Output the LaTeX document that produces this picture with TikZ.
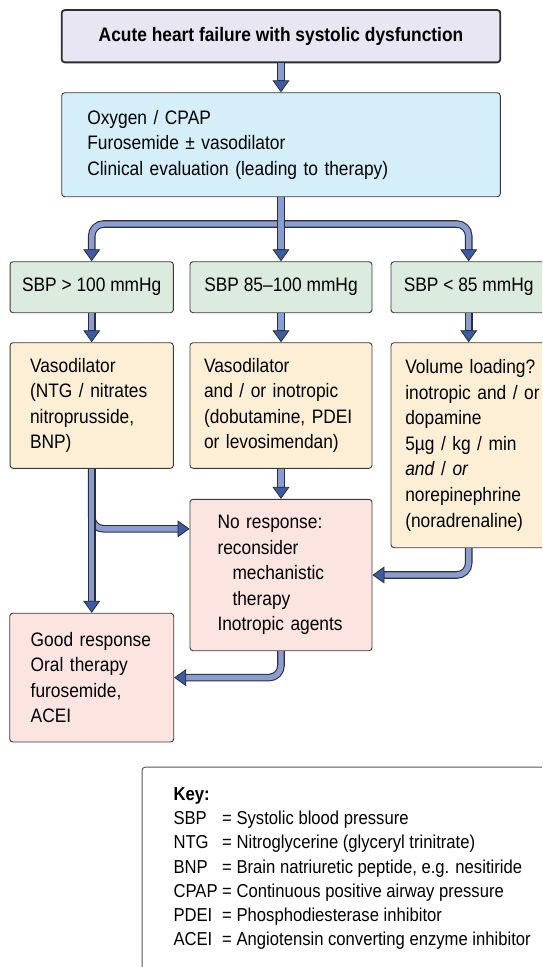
\documentclass[tikz,border=0pt]{standalone}
\usepackage{fontspec}
\setmainfont{Liberation Sans}[FakeStretch=0.89]
\usetikzlibrary{arrows.meta}
\definecolor{ink}{HTML}{2E2E2E}
\definecolor{frame}{HTML}{3A3A3A}
\definecolor{keyline}{HTML}{555555}
\definecolor{headfill}{HTML}{E7E6F2}
\definecolor{carefill}{HTML}{D4EEFA}
\definecolor{sbpfill}{HTML}{DBEBDE}
\definecolor{drugfill}{HTML}{FDEFD6}
\definecolor{outfill}{HTML}{FCE4E1}
\definecolor{pipefill}{HTML}{8A9DD3}
\definecolor{pipetip}{HTML}{3B5BA5}

\begin{document}
\begin{tikzpicture}[
  x=1pt, y=-1pt,
  font=\fontsize{19.5}{25.6}\selectfont,
  box/.style={draw=frame,line width=0.9pt,rounded corners=3pt,align=left,inner ysep=0pt},
  head/.style={box,fill=headfill,draw=ink,line width=1.8pt,align=center,
               font=\fontsize{19.5}{25.6}\selectfont\bfseries},
  care/.style={box,fill=carefill},
  sbp/.style={box,fill=sbpfill,align=center,minimum height=51pt},
  drug/.style={box,fill=drugfill},
  outcome/.style={box,fill=outfill},
  keybox/.style={draw=keyline,line width=0.9pt,rounded corners=3pt,fill=white,
                 inner xsep=13.3pt,inner ysep=16pt,
                 font=\fontsize{18.7}{24.3}\selectfont},
  flow/.style={draw=pipefill,line width=5.4pt,
               -{Triangle[width=17pt,length=12pt,color=ink,fill=pipetip,line width=0.8pt]},
               preaction={draw=ink,line width=7.6pt,arrows=-,shorten >=10pt}},
  elbow/.style={flow,rounded corners=12pt},
]
\useasboundingbox (0,0) rectangle (542,967);
\clip (0,0) rectangle (542,967);

% --- row 0: presentation and first measures --------------------------------
\node[head,minimum width=438.6pt,minimum height=52.3pt] (hf) at (281,36.2)
  {Acute heart failure with systolic dysfunction};
\node[care,minimum height=104pt,text width=387.4pt,inner xsep=25.6pt] (init) at (281,144.7)
  {Oxygen / CPAP\\Furosemide ± vasodilator\\Clinical evaluation (leading to therapy)};

% --- row 1: blood pressure bands --------------------------------------------
\node[sbp,minimum width=163.3pt] (sbphi)  at (91.7,287.2)  {SBP > 100 mmHg};
\node[sbp,minimum width=182pt]   (sbpmid) at (281,287.2)   {SBP 85--100 mmHg};
\node[sbp,minimum width=155.4pt] (sbplo)  at (468.7,287.2) {SBP < 85 mmHg};

% --- row 2: drug choices ----------------------------------------------------
\node[drug,text width=123.3pt,inner xsep=20pt,minimum height=125.6pt] (vasohi) at (91.7,405.5)
  {Vasodilator\\(NTG / nitrates\\nitroprusside,\\BNP)};
\node[drug,text width=154pt,inner xsep=14pt,minimum height=125.6pt] (vasomid) at (281,405.5)
  {Vasodilator\\and / or inotropic\\(dobutamine, PDEI\\or levosimendan)};
\node[drug,text width=140pt,inner xsep=14.3pt,minimum height=205pt] (vollo) at (475.3,445.2)
  {Volume loading?\\inotropic and / or\\dopamine\\5µg / kg / min\\\textit{and} / \textit{or}\\norepinephrine\\(noradrenaline)};

% --- row 3: response --------------------------------------------------------
\node[outcome,text width=127pt,inner xsep=27.5pt,minimum height=151.4pt] (noresp) at (281,575)
  {No response:\\reconsider\\\hspace*{15pt}mechanistic\\\hspace*{15pt}therapy\\Inotropic agents};
\node[outcome,text width=122pt,inner xsep=21pt,minimum height=128.7pt] (goodresp) at (91.7,677.6)
  {Good response\\Oral therapy\\furosemide,\\ACEI};

% --- key ----------------------------------------------------------------------
\node[keybox,anchor=north west,minimum width=420pt,text depth=190pt] (key) at (141.7,766.7)
  {\begin{tabular}[t]{@{}l@{\ }l@{}}
   \textbf{Key:} & \\
   SBP  & = Systolic blood pressure\\
   NTG  & = Nitroglycerine (glyceryl trinitrate)\\
   BNP  & = Brain natriuretic peptide, e.g. nesitiride\\
   CPAP & = Continuous positive airway pressure\\
   PDEI & = Phosphodiesterase inhibitor\\
   ACEI & = Angiotensin converting enzyme inhibitor
   \end{tabular}};

% --- connectors ---------------------------------------------------------------
\coordinate (split) at (281,224);
\draw[flow] (hf) -- (init);
\draw[elbow] (split) -| (sbphi.north);
\draw[elbow] (split) -| (sbplo.north);
\draw[flow] (init) -- (sbpmid);

\draw[flow] (sbphi)  -- (vasohi);
\draw[flow] (sbpmid) -- (vasomid);
\draw[flow] (sbplo.south) -- (sbplo.south |- vollo.north);

\draw[flow] (vasomid) -- (noresp);
\draw[elbow] (vasohi.south) |- ([yshift=-30pt]noresp.north west);
\draw[flow] (vasohi) -- (goodresp);
\draw[elbow] (sbplo.south |- vollo.south) |- (noresp.east);
\draw[elbow] (noresp.south) |- (goodresp.east);
\end{tikzpicture}
\end{document}
